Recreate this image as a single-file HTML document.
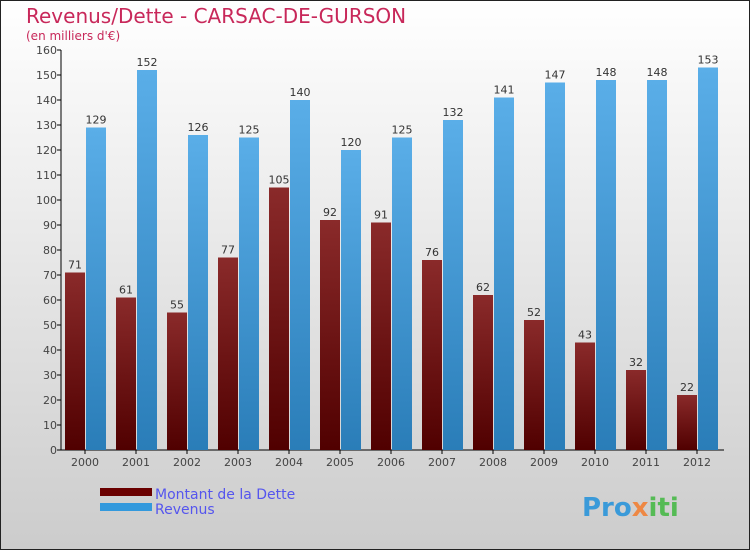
<!DOCTYPE html>
<html><head><meta charset="utf-8"><style>
body{margin:0}
#c{width:750px;height:550px;position:relative;background:linear-gradient(#ffffff,#cccccc);box-sizing:border-box;border:1px solid #222;font-family:"DejaVu Sans","Liberation Sans",sans-serif;overflow:hidden}
</style></head><body>
<div id="c">
<svg width="750" height="550" style="position:absolute;left:-1px;top:-1px" id="svg">
<defs>
<linearGradient id="gd" x1="0" y1="0" x2="0" y2="1"><stop offset="0" stop-color="#8a2a2a"/><stop offset="1" stop-color="#500000"/></linearGradient>
<linearGradient id="gr" x1="0" y1="0" x2="0" y2="1"><stop offset="0" stop-color="#5aaee8"/><stop offset="1" stop-color="#2a7db8"/></linearGradient>
</defs>
<text x="26" y="23" font-size="20" fill="#c8285a">Revenus/Dette - CARSAC-DE-GURSON</text>
<text x="26" y="40" font-size="12" fill="#c8285a">(en milliers d'€)</text>
<g id="g"></g>
<rect x="100" y="488" width="52" height="8" fill="#6a0000"/>
<rect x="100" y="503" width="52" height="8" fill="#3399dd"/>
<text x="155" y="499" font-size="14" fill="#5555ee">Montant de la Dette</text>
<text x="155" y="514" font-size="14" fill="#5555ee">Revenus</text>
<text x="582" y="516" font-size="26" font-weight="bold" fill="#3a9ad9">Pro<tspan fill="#e84">x</tspan><tspan fill="#5b5">iti</tspan></text>
</svg>
</div>
<script>
const years=["2000","2001","2002","2003","2004","2005","2006","2007","2008","2009","2010","2011","2012"];
const debt=[71,61,55,77,105,92,91,76,62,52,43,32,22];
const revenue=[129,152,126,125,140,120,125,132,141,147,148,148,153];
const yTicks=[0,10,20,30,40,50,60,70,80,90,100,110,120,130,140,150,160];
const ns="http://www.w3.org/2000/svg",g=document.getElementById('g');
const x0=61,step=51,y0=450,k=2.5;
const Y=v=>y0-v*k;
function el(t,a,txt){const e=document.createElementNS(ns,t);for(const n in a)e.setAttribute(n,a[n]);if(txt!=null)e.textContent=txt;g.appendChild(e);return e;}
let e=el('line',{x1:x0,y1:Y(160),x2:x0,y2:y0,stroke:'#000'});


e=el('line',{x1:x0,y1:y0,x2:x0+step*years.length,y2:y0,stroke:'#000'});


yTicks.forEach(v=>{
 el('line',{x1:x0-4,y1:Y(v),x2:x0,y2:Y(v),stroke:'#000'});
 const t=el('text',{x:x0-4,y:Y(v)+4,'font-size':11,fill:'#444','text-anchor':'end'},v);
 
 
});
years.forEach((yr,i)=>{
 const c=x0+step*i+24;
 el('line',{x1:c,y1:y0,x2:c,y2:y0+4,stroke:'#000'});
 let t=el('text',{x:c,y:y0+16,'font-size':11,fill:'#444','text-anchor':'middle'},yr);
 
 
 let b=el('rect',{x:c-20,y:Y(debt[i]),width:20,height:debt[i]*k,fill:'url(#gd)'});
 
 
 b=el('rect',{x:c+1,y:Y(revenue[i]),width:20,height:revenue[i]*k,fill:'url(#gr)'});
 
 
 t=el('text',{x:c-10,y:Y(debt[i])-4,'font-size':11,fill:'#333','text-anchor':'middle'},debt[i]);
 
 
 t=el('text',{x:c+11,y:Y(revenue[i])-4,'font-size':11,fill:'#333','text-anchor':'middle'},revenue[i]);
 
 
});
</script>
</body></html>
